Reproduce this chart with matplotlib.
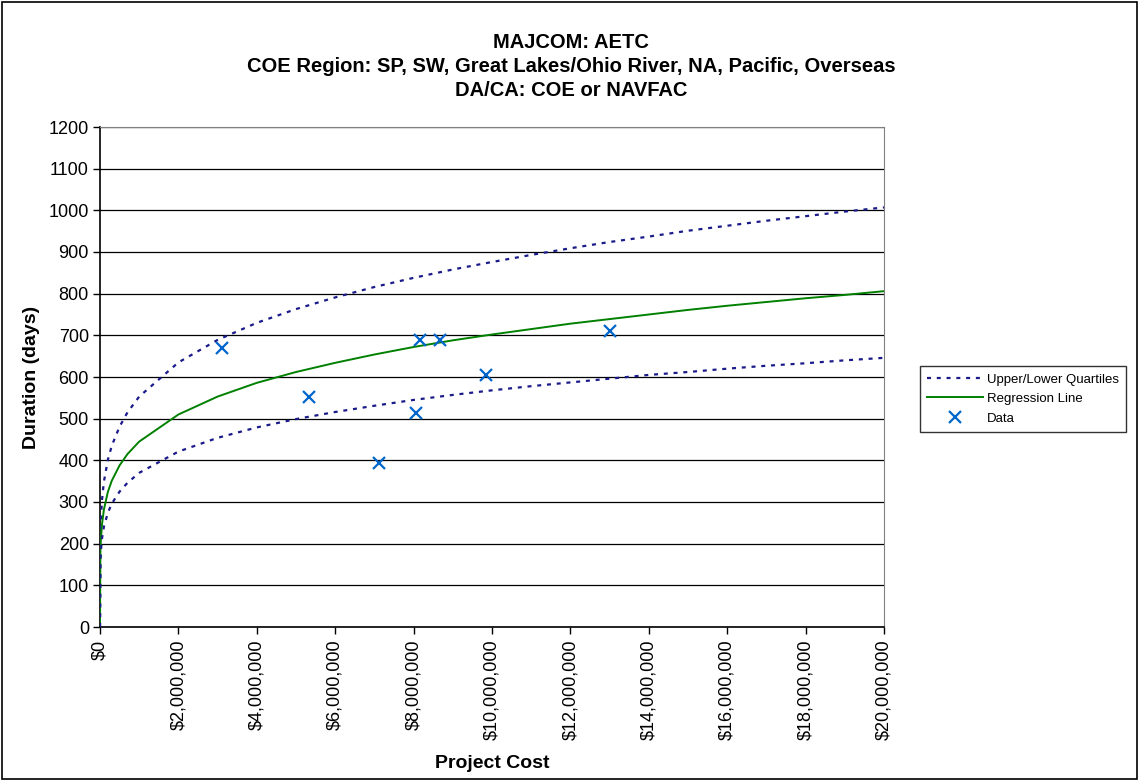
import matplotlib
matplotlib.use("Agg")
import matplotlib.pyplot as plt
from matplotlib.patches import Rectangle
from matplotlib.ticker import FuncFormatter, MultipleLocator

plt.rcParams['font.family'] = ['Liberation Sans', 'DejaVu Sans']

# Curve sample points (project cost in $)
curve_x = [0, 10000, 20000, 50000, 100000, 200000, 300000, 500000, 700000,
           1000000, 2000000, 3000000, 4000000, 5000000, 6000000, 7000000,
           8000000, 9000000, 10000000, 11000000, 12000000, 13000000, 14000000,
           15000000, 16000000, 17000000, 18000000, 19000000, 20000000]
upper_q = [0, 220, 253, 304, 349, 401, 435, 481, 515,
           553, 635, 689, 730, 763, 791, 816, 838, 858, 876, 893, 909, 924,
           937, 951, 963, 975, 986, 997, 1007]
regression = [0, 179, 205, 246, 282, 324, 351, 388, 415,
              445, 510, 553, 586, 612, 634, 654, 672, 688, 702, 715, 728, 739,
              750, 761, 771, 780, 789, 797, 806]
lower_q = [0, 157, 179, 212, 241, 274, 296, 325, 346,
           370, 421, 454, 479, 499, 516, 531, 545, 557, 568, 578, 587, 596,
           605, 612, 620, 627, 633, 640, 646]

# Data points
data_x = [3110000, 5330000, 7120000, 8060000, 8160000, 8670000, 9850000, 13010000]
data_y = [670, 552, 394, 514, 689, 689, 605, 710]

title_lines = ["MAJCOM: AETC",
               "COE Region: SP, SW, Great Lakes/Ohio River, NA, Pacific, Overseas",
               "DA/CA: COE or NAVFAC"]

W, H = 1138, 780
fig = plt.figure(figsize=(W / 100, H / 100), dpi=100)
ax = fig.add_axes([100 / W, 1 - 627 / H, 784 / W, 500 / H])

navy = '#1a1a8a'
dash = (0, (1.8, 2.6))
ax.plot(curve_x, upper_q, color=navy, lw=1.6, linestyle=dash,
        label='Upper/Lower Quartiles', zorder=3)
ax.plot(curve_x, regression, color='#008000', lw=1.4, label='Regression Line', zorder=3)
ax.plot(curve_x, lower_q, color=navy, lw=1.6, linestyle=dash, zorder=3)
ax.plot(data_x, data_y, linestyle='none', marker='x', color='#0066CC',
        markersize=9, markeredgewidth=1.6, label='Data', zorder=4)

ax.set_xlim(0, 20000000)
ax.set_ylim(0, 1200)
ax.xaxis.set_major_locator(MultipleLocator(2000000))
ax.yaxis.set_major_locator(MultipleLocator(100))
ax.xaxis.set_major_formatter(FuncFormatter(lambda v, p: f"${v:,.0f}"))
ax.grid(axis='y', color='black', lw=0.9, zorder=1)
ax.set_axisbelow(True)

ax.tick_params(axis='x', labelsize=13, length=5, width=1, direction='out', pad=4,
               labelrotation=90)
ax.tick_params(axis='y', labelsize=13, length=5, width=1, direction='out', pad=3)

ax.spines['left'].set_color('black')
ax.spines['bottom'].set_color('black')
ax.spines['left'].set_linewidth(1.2)
ax.spines['bottom'].set_linewidth(1.2)
ax.spines['right'].set_color('#808080')
ax.spines['top'].set_color('#808080')

ax.set_xlabel('Project Cost', fontsize=14, fontweight='bold', labelpad=11)
ax.set_ylabel('Duration (days)', fontsize=14, fontweight='bold', labelpad=6)

for i, t in enumerate(title_lines):
    fig.text(571 / W, 1 - (42 + i * 24.5) / H, t, ha='center', va='center',
             fontsize=14.5, fontweight='bold')

leg = fig.legend(loc='center', bbox_to_anchor=(1023 / W, 1 - 399 / H),
                 fontsize=9.5, frameon=True, fancybox=False, edgecolor='black',
                 handlelength=4.2, borderpad=0.55, labelspacing=0.55,
                 handletextpad=0.3)
leg.get_frame().set_linewidth(1)

fig.patches.append(Rectangle((1.5 / W, 1.5 / H), (W - 3) / W, (H - 3) / H,
                             transform=fig.transFigure, fill=False,
                             edgecolor='black', lw=1.2))

fig.savefig('out.png', dpi=100)
